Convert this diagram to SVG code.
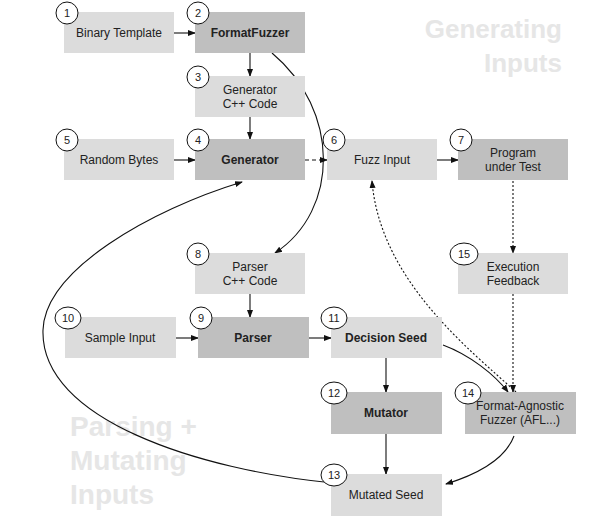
<svg xmlns="http://www.w3.org/2000/svg" width="616" height="524" viewBox="0 0 616 524">
<style>
.l{fill:#dcdcdc}.d{fill:#bfbfbf}
text{font-family:"Liberation Sans",Arial,sans-serif;font-size:12px;fill:#222;text-anchor:middle}
.b{font-weight:bold}
.n{font-size:11px}
circle,ellipse{fill:#fff;stroke:#111;stroke-width:1}
.big{font-size:26px;font-weight:bold;fill:#e6e6e6}
.c{fill:none;stroke:#111;stroke-width:1.1}
.dt{stroke-dasharray:2,2}
</style>
<defs><marker id="a" markerWidth="8" markerHeight="8" refX="7" refY="4" orient="auto" markerUnits="userSpaceOnUse"><path d="M0,1 L8,4 L0,7z" fill="#111"/></marker></defs>
<text class="big" x="562" y="38" text-anchor="end" style="text-anchor:end">Generating</text>
<text class="big" x="562" y="72" style="text-anchor:end">Inputs</text>
<text class="big" x="70" y="436" style="text-anchor:start;font-size:28px">Parsing +</text>
<text class="big" x="70" y="470" style="text-anchor:start;font-size:28px">Mutating</text>
<text class="big" x="70" y="504" style="text-anchor:start;font-size:28px">Inputs</text>
<g id="connectors">
<path class="c" marker-end="url(#a)" d="M174,33H195"/>
<path class="c" marker-end="url(#a)" d="M250,53V76"/>
<path class="c" marker-end="url(#a)" d="M250,117V139"/>
<path class="c" marker-end="url(#a)" d="M174,160H195"/>
<path class="c" marker-end="url(#a)" d="M305,160H327" stroke-dasharray="4,3"/>
<path class="c" marker-end="url(#a)" d="M437,160H458"/>
<path class="c dt" marker-end="url(#a)" d="M513,181V253"/>
<path class="c dt" marker-end="url(#a)" d="M513,294V392"/>
<path class="c" marker-end="url(#a)" d="M272,53C340,110 340,210 275,253"/>
<path class="c" marker-end="url(#a)" d="M250,294V317"/>
<path class="c" marker-end="url(#a)" d="M176,338H198"/>
<path class="c" marker-end="url(#a)" d="M309,338H331"/>
<path class="c" marker-end="url(#a)" d="M386,358V392"/>
<path class="c" marker-end="url(#a)" d="M443,345C470,355 495,375 508,392"/>
<path class="c dt" stroke-width="0.8" marker-end="url(#a)" d="M516,392C470,350 380,280 372,181"/>
<path class="c" marker-end="url(#a)" d="M386,434V474"/>
<path class="c" marker-end="url(#a)" d="M514,436C505,460 475,475 446,484"/>
<path class="c" marker-end="url(#a)" d="M333,483C200,470 40,420 43,330C45,270 150,210 242,182"/>
</g>
<g id="n1"><rect class="l" x="64" y="12" width="110" height="41"/><text x="119" y="37">Binary Template</text><circle cx="67" cy="13" r="11"/><text class="n" x="67" y="17">1</text></g>
<g id="n2"><rect class="d" x="195" y="12" width="110" height="41"/><text class="b" x="250" y="37">FormatFuzzer</text><circle cx="198" cy="13" r="11"/><text class="n" x="198" y="17">2</text></g>
<g id="n3"><rect class="l" x="195" y="76" width="110" height="41"/><text x="250" y="94">Generator</text><text x="250" y="108">C++ Code</text><circle cx="198" cy="77" r="11"/><text class="n" x="198" y="81">3</text></g>
<g id="n5"><rect class="l" x="64" y="139" width="110" height="41"/><text x="119" y="164">Random Bytes</text><circle cx="67" cy="140" r="11"/><text class="n" x="67" y="144">5</text></g>
<g id="n4"><rect class="d" x="195" y="139" width="110" height="41"/><text class="b" x="250" y="164">Generator</text><circle cx="198" cy="140" r="11"/><text class="n" x="198" y="144">4</text></g>
<g id="n6"><rect class="l" x="327" y="139" width="110" height="41"/><text x="382" y="164">Fuzz Input</text><circle cx="334" cy="140" r="11"/><text class="n" x="334" y="144">6</text></g>
<g id="n7"><rect class="d" x="458" y="139" width="110" height="41"/><text x="513" y="157">Program</text><text x="513" y="171">under Test</text><circle cx="461" cy="140" r="11"/><text class="n" x="461" y="144">7</text></g>
<g id="n15"><rect class="l" x="458" y="253" width="110" height="41"/><text x="513" y="271">Execution</text><text x="513" y="285">Feedback</text><ellipse cx="464" cy="254" rx="14" ry="11"/><text class="n" x="464" y="258">15</text></g>
<g id="n8"><rect class="l" x="195" y="253" width="110" height="41"/><text x="250" y="271">Parser</text><text x="250" y="285">C++ Code</text><circle cx="198" cy="254" r="11"/><text class="n" x="198" y="258">8</text></g>
<g id="n10"><rect class="l" x="65" y="317" width="111" height="41"/><text x="120" y="342">Sample Input</text><ellipse cx="68" cy="318" rx="13" ry="11"/><text class="n" x="68" y="322">10</text></g>
<g id="n9"><rect class="d" x="198" y="317" width="111" height="41"/><text class="b" x="253" y="342">Parser</text><circle cx="201" cy="318" r="11"/><text class="n" x="201" y="322">9</text></g>
<g id="n11"><rect class="l" x="331" y="317" width="111" height="41"/><text class="b" x="386" y="342">Decision Seed</text><ellipse cx="334" cy="318" rx="13" ry="11"/><text class="n" x="334" y="322">11</text></g>
<g id="n12"><rect class="d" x="331" y="392" width="111" height="42"/><text class="b" x="386" y="417">Mutator</text><ellipse cx="334" cy="393" rx="13" ry="11"/><text class="n" x="334" y="397">12</text></g>
<g id="n14"><rect class="d" x="465" y="392" width="111" height="42"/><text x="520" y="410">Format-Agnostic</text><text x="520" y="424">Fuzzer (AFL...)</text><ellipse cx="468" cy="393" rx="13" ry="11"/><text class="n" x="468" y="397">14</text></g>
<g id="n13"><rect class="l" x="331" y="474" width="111" height="42"/><text x="386" y="499">Mutated Seed</text><ellipse cx="334" cy="475" rx="13" ry="11"/><text class="n" x="334" y="479">13</text></g>
</svg>
